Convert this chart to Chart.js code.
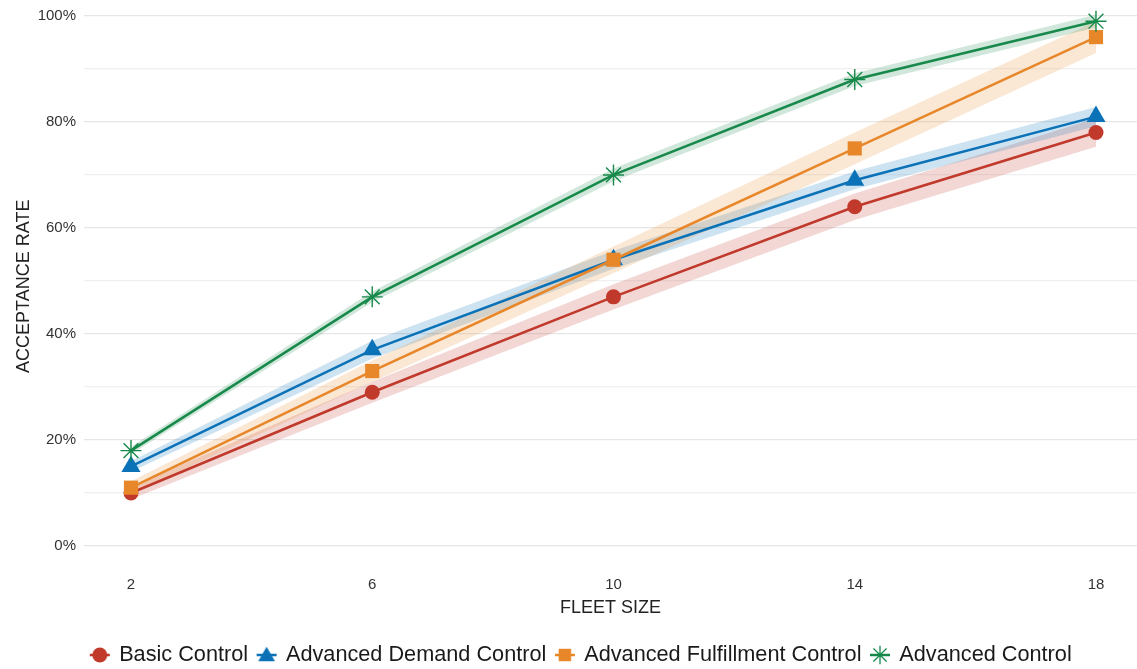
<!DOCTYPE html>
<html>
<head>
<meta charset="utf-8">
<script src="https://cdn.jsdelivr.net/npm/chart.js@4"></script>
<style>
  html, body { margin: 0; padding: 0; background: #ffffff; }
  #wrap { width: 1137px; height: 669px; position: relative; }
</style>
</head>
<body>
<div id="wrap"><canvas id="chart"></canvas></div>
<script>
// Fleet sizes on the x axis
const fleetSizes = [2, 6, 10, 14, 18];
const xTicks = [2, 6, 10, 14, 18];

// Series names
const seriesNames = ['Basic Control', 'Advanced Demand Control', 'Advanced Fulfillment Control', 'Advanced Control'];

// Acceptance rate (%) per fleet size, with lower/upper confidence bounds
const basicRate = [10, 29, 47, 64, 78];
const basicLow  = [8.8, 27, 44.6, 61.5, 75.3];
const basicHigh = [11.2, 31, 49.4, 66.5, 80.7];

const demandRate = [15, 37, 54, 69, 81];
const demandLow  = [14, 35.3, 52.3, 67.3, 79.2];
const demandHigh = [16, 38.7, 55.7, 70.7, 82.8];

const fulfillRate = [11, 33, 54, 75, 96];
const fulfillLow  = [9.8, 31, 51.5, 72, 93];
const fulfillHigh = [12.2, 35, 56.5, 78, 99];

const advancedRate = [18, 47, 70, 88, 99];
const advancedLow  = [17.3, 46, 68.8, 86.8, 97.8];
const advancedHigh = [18.7, 48, 71.2, 89.2, 100.2];

const colors = ['#C0392B', '#0B72B8', '#E8872A', '#17894A'];
const bandColors = ['rgba(192,57,43,0.2)', 'rgba(11,114,184,0.2)', 'rgba(232,135,42,0.2)', 'rgba(23,137,74,0.2)'];
const pointStyles = ['circle', 'triangle', 'rect', 'star'];
const pointRadii = [7.5, 11, 10, 10.5];

const rates = [basicRate, demandRate, fulfillRate, advancedRate];
const lows = [basicLow, demandLow, fulfillLow, advancedLow];
const highs = [basicHigh, demandHigh, fulfillHigh, advancedHigh];

const toPts = arr => fleetSizes.map((x, i) => ({ x: x, y: arr[i] / 100 }));

// Legend swatch: short line with the series marker on top
function legendSwatch(i) {
  const c = document.createElement('canvas');
  c.width = 22; c.height = 24;
  const g = c.getContext('2d');
  g.strokeStyle = colors[i]; g.lineWidth = 2.5;
  g.beginPath(); g.moveTo(1, 12); g.lineTo(21, 12); g.stroke();
  g.fillStyle = colors[i];
  const opts = { pointStyle: pointStyles[i], radius: pointRadii[i] * (pointStyles[i] === 'circle' ? 1 : 0.88), borderWidth: pointStyles[i] === 'star' ? 1.3 : 0, rotation: 0 };
  g.lineWidth = opts.borderWidth;
  Chart.helpers.drawPoint(g, opts, 11, pointStyles[i] === 'triangle' ? 13.5 : 12);
  return c;
}

const datasets = [];
// Lines with markers (first in the list so they paint above the bands)
for (let i = 3; i >= 0; i--) {
  datasets.push({
    label: seriesNames[i],
    data: toPts(rates[i]),
    borderColor: colors[i],
    backgroundColor: colors[i],
    borderWidth: 2.5,
    pointStyle: pointStyles[i],
    pointRadius: pointRadii[i],
    pointBorderWidth: pointStyles[i] === 'star' ? 1.4 : 0,
    pointBorderColor: colors[i],
    pointBackgroundColor: colors[i],
    fill: false,
    tension: 0,
    clip: false
  });
}
// Confidence bands: upper bound filled down to the lower bound
for (let i = 3; i >= 0; i--) {
  datasets.push({
    label: seriesNames[i] + ' upper',
    data: toPts(highs[i]),
    borderWidth: 0,
    borderColor: 'rgba(0,0,0,0)',
    backgroundColor: bandColors[i],
    pointRadius: 0,
    fill: '+1',
    tension: 0
  });
  datasets.push({
    label: seriesNames[i] + ' lower',
    data: toPts(lows[i]),
    borderWidth: 0,
    borderColor: 'rgba(0,0,0,0)',
    backgroundColor: bandColors[i],
    pointRadius: 0,
    fill: false,
    tension: 0
  });
}

const FONT = "'Liberation Sans', Arial, Helvetica, sans-serif";
const PLOT_BOTTOM = 572.5;
const LEGEND_FONT = 21.7;
const LEGEND_PAD = 10;

// Drop the automatic label padding so the plot fills the canvas edges
const noPad = s => { s.paddingTop = 0; s.paddingBottom = 0; s.paddingLeft = 0; s.paddingRight = 0; };

// Nudge the legend row: centre it under the plot and set its baseline
const legendNudge = {
  id: 'legendNudge',
  afterLayout(chart) {
    const lg = chart.legend;
    if (!lg) return;
    const dx = 13;
    const dy = 655 - (lg.top + LEGEND_PAD + LEGEND_FONT / 2);
    lg.left += dx; lg.right += dx;
    lg.top += dy; lg.bottom += dy;
  }
};

new Chart(document.getElementById('chart'), {
  type: 'line',
  data: { datasets: datasets },
  plugins: [legendNudge],
  options: {
    responsive: true,
    maintainAspectRatio: false,
    animation: false,
    layout: { autoPadding: false, padding: 0 },
    plugins: {
      tooltip: { enabled: false },
      legend: {
        position: 'bottom',
        maxHeight: 39,
        labels: {
          font: { family: FONT, size: LEGEND_FONT },
          color: '#1a1a1a',
          usePointStyle: true,
          pointStyleWidth: 17,
          padding: LEGEND_PAD,
          generateLabels: function () {
            return [0, 1, 2, 3].map(i => ({
              text: seriesNames[i],
              pointStyle: legendSwatch(i),
              fillStyle: colors[i],
              strokeStyle: colors[i],
              lineWidth: 0,
              hidden: false,
              datasetIndex: 3 - i,
              fontColor: '#1a1a1a'
            }));
          }
        }
      }
    },
    scales: {
      x: {
        type: 'linear',
        min: 1.221,
        max: 18.68,
        afterBuildTicks: s => { s.ticks = xTicks.map(v => ({ value: v })); },
        afterFit: s => {
          noPad(s);
          const lgH = s.chart.legend ? s.chart.legend.height : 39;
          s.height = 669 - PLOT_BOTTOM - lgH;
        },
        grid: { display: false, drawTicks: false },
        border: { display: false },
        ticks: {
          font: { family: FONT, size: 15 },
          color: '#333333',
          padding: 3.5,
          maxRotation: 0
        },
        title: {
          display: true,
          text: 'FLEET SIZE',
          font: { family: FONT, size: 18 },
          color: '#222222',
          padding: { top: 3, bottom: 11 }
        }
      },
      y: {
        type: 'linear',
        min: -0.05,
        max: 1.030,
        afterBuildTicks: s => {
          const t = [];
          for (let k = 0; k <= 10; k++) t.push({ value: k / 10 });
          s.ticks = t;
        },
        afterFit: s => { noPad(s); s.width = 84; },
        grid: {
          drawTicks: false,
          color: ctx => (Math.round(ctx.tick.value * 10) % 2 === 0) ? '#e6e6e6' : '#f0f0f0',
          lineWidth: 1.2
        },
        border: { display: false },
        ticks: {
          font: { family: FONT, size: 15 },
          color: '#333333',
          padding: 8,
          callback: v => (Math.round(v * 10) % 2 === 0) ? Math.round(v * 100) + '%' : ''
        },
        title: {
          display: true,
          text: 'ACCEPTANCE RATE',
          font: { family: FONT, size: 18 },
          color: '#222222',
          padding: { top: 13, bottom: 0 }
        }
      }
    }
  }
});
</script>
</body>
</html>
